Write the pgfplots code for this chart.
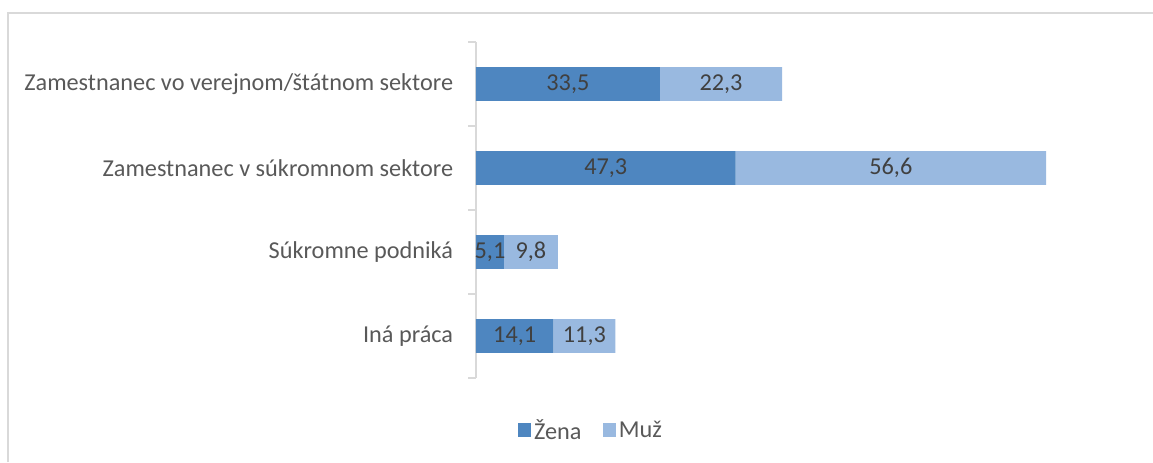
\documentclass[border=0pt]{standalone}
\usepackage{fontspec}
\setmainfont{Carlito}
\usepackage{pgfplots}
\usepackage{pgfplotstable}
\pgfplotsset{compat=1.18}
\definecolor{zena}{HTML}{4E86C0}
\definecolor{muz}{HTML}{99B9E0}
\definecolor{lbl}{HTML}{595959}
\definecolor{val}{HTML}{404040}
\definecolor{frm}{HTML}{D9D9D9}
\pgfplotstableread{
pos zena muz
3 33.5 22.3
2 47.3 56.6
1 5.1 9.8
0 14.1 11.3
}\data
\begin{document}
\begin{tikzpicture}[font=\fontsize{18.2pt}{22pt}\selectfont]
\useasboundingbox (0,0) rectangle (864.75pt,346.5pt);
\draw[frm, line width=1pt] (6pt,0) -- (6pt,336.75pt) -- (864.75pt,336.75pt);
\begin{axis}[
  at={(357pt,63pt)}, anchor=south west,
  scale only axis, width=452.7pt, height=252pt,
  xbar stacked, bar width=25.2pt,
  xmin=0, xmax=110, ymin=-0.5, ymax=3.5,
  axis x line=none, axis y line=left,
  y axis line style={-, draw=frm, line width=1pt},
  ytick={0,1,2,3},
  yticklabels={Iná práca, Súkromne podniká, Zamestnanec v súkromnom sektore, Zamestnanec vo verejnom/štátnom sektore},
  major tick length=0pt,
  minor ytick={-0.5,0.5,1.5,2.5,3.5},
  minor tick length=6pt, tick align=outside,
  minor tick style={draw=frm, line width=1pt},
  yticklabel style={text=lbl, inner sep=0pt, xshift=-17pt},
  nodes near coords={\pgfmathprintnumber[use comma, fixed, precision=1, fixed zerofill, assume math mode=true]{\pgfplotspointmeta}},
  point meta=explicit,
  every node near coord/.append style={anchor=center, text=val},
  legend columns=2,
  legend style={at={(0.191,-0.155)}, anchor=center, draw=none, text=lbl,
    /tikz/every even column/.append style={column sep=14pt}},
  legend image code/.code={\fill[#1] (0pt,-5pt) rectangle (10pt,5pt);},
]
\addplot[fill=zena, draw=none] table[x=zena, y=pos, meta=zena] {\data};
\addlegendentry{Žena}
\addplot[fill=muz, draw=none] table[x=muz, y=pos, meta=muz] {\data};
\addlegendentry{Muž}
\end{axis}
\end{tikzpicture}
\end{document}
